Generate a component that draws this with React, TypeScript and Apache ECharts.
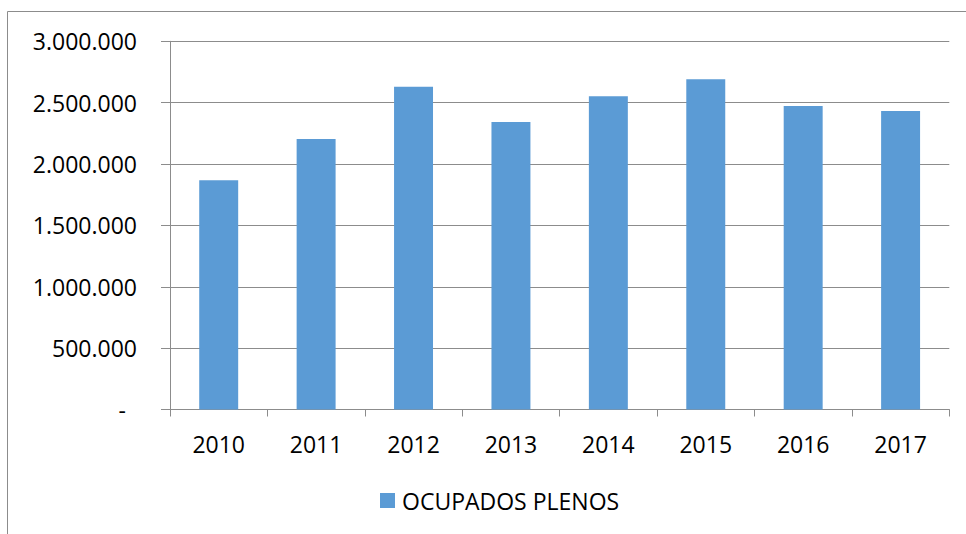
import React, { useEffect, useRef } from "react";
import * as echarts from "echarts";

const categories = ["2010", "2011", "2012", "2013", "2014", "2015", "2016", "2017"];
const seriesName = "OCUPADOS PLENOS";
const values = [1867000, 2204000, 2630000, 2343000, 2552000, 2690000, 2473000, 2432000];
const yMax = 3000000;
const yInterval = 500000;

const FONT = "'Open Sans', sans-serif";

function fmt(v: number): string {
  if (v === 0) return "{d|-}";
  return String(Math.round(v)).replace(/\B(?=(\d{3})+(?!\d))/g, ".");
}

export default function App() {
  const ref = useRef<HTMLDivElement>(null);
  useEffect(() => {
    if (!ref.current) return;
    const chart = echarts.init(ref.current, null, { renderer: "svg" });
    chart.setOption({
      animation: false,
      backgroundColor: "#ffffff",
      textStyle: { fontFamily: FONT },
      grid: { left: 170, right: 16.7, top: 41.3, bottom: 124.5, containLabel: false },
      graphic: [
        {
          type: "rect",
          shape: { x: 7.5, y: 11.5, width: 1000, height: 600 },
          style: { fill: "none", stroke: "#8c8c8c", lineWidth: 1 },
          silent: true,
        },
      ],
      legend: {
        data: [seriesName],
        left: 380,
        top: 489,
        padding: 0,
        itemWidth: 15,
        itemHeight: 15,
        itemGap: 10,
        icon: "rect",
        textStyle: { fontFamily: FONT, fontSize: 23, color: "#000", padding: [0, 0, 0, 2] },
      },
      xAxis: {
        type: "category",
        data: categories,
        boundaryGap: true,
        axisLine: { lineStyle: { color: "#8c8c8c", width: 1 } },
        axisTick: { show: true, length: 7, lineStyle: { color: "#8c8c8c" } },
        axisLabel: { fontFamily: FONT, fontSize: 23, color: "#000", margin: 23 },
        splitLine: { show: false },
      },
      yAxis: {
        type: "value",
        min: 0,
        max: yMax,
        interval: yInterval,
        axisLine: { show: true, lineStyle: { color: "#8c8c8c", width: 1 } },
        axisTick: { show: true, length: 9, lineStyle: { color: "#8c8c8c" } },
        axisLabel: {
          fontFamily: FONT,
          fontSize: 23,
          color: "#000",
          margin: 33,
          formatter: (v: number) => fmt(v),
          rich: { d: { fontFamily: FONT, fontSize: 23, color: "#000", padding: [0, 11, 0, 0] } },
        },
        splitLine: { show: true, lineStyle: { color: "#8c8c8c", width: 1 } },
      },
      series: [
        {
          name: seriesName,
          type: "bar",
          data: values,
          barWidth: "40%",
          itemStyle: { color: "#5b9bd5" },
        },
      ],
    });
    return () => chart.dispose();
  }, []);
  return (
    <div
      ref={ref}
      style={{ position: "fixed", left: 0, top: 0, width: 966, height: 534 }}
    />
  );
}
